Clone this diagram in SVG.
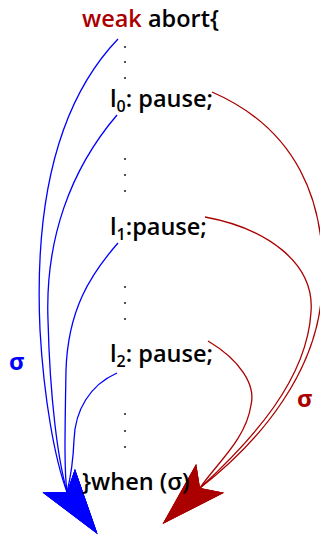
<svg xmlns="http://www.w3.org/2000/svg" width="320" height="534" viewBox="0 0 320 534">
<style>
text{font-family:"Open Sans","Noto Sans","DejaVu Sans",sans-serif;font-weight:600;font-size:23.5px;fill:#000}
.kw{fill:#aa0000}
.sub{font-size:16px}
.dot{fill:#000}
.b{fill:none;stroke:#0000ff;stroke-width:1.3;marker-end:url(#ab)}
.r{fill:none;stroke:#aa0000;stroke-width:1.3;marker-end:url(#ar)}
.sb{fill:#0000ff;font-weight:700}
.sr{fill:#aa0000;font-weight:700}
</style>
<defs>
<marker id="ab" markerUnits="userSpaceOnUse" orient="54" refX="0" refY="0" markerWidth="1" markerHeight="1" overflow="visible">
<path d="M52,0 L-14,-20 L0,0 L-14,20 Z" fill="#0000ff"/>
</marker>
<marker id="ar" markerUnits="userSpaceOnUse" orient="136" refX="0" refY="0" markerWidth="1" markerHeight="1" overflow="visible">
<path d="M52,0 L-14,-20 L0,0 L-14,20 Z" fill="#aa0000"/>
</marker>
</defs>
<g id="connectors">
<path class="b" d="M118,39 C50,110 35,220 40,330 C44,400 55,460 67,492"/>
<path class="b" d="M117,115 C70,170 45,240 48,320 C50,400 58,460 67,492"/>
<path class="b" d="M118,243 C90,275 68,310 66,370 C65,430 64,470 67,492"/>
<path class="b" d="M117,373 C90,385 75,410 74,440 C73,465 70,480 67,492"/>
<path class="r" d="M212,92 C295,128 328,200 322,290 C318,370 262,440 200,488"/>
<path class="r" d="M205,217 C265,228 315,262 311,312 C307,380 252,440 200,488"/>
<path class="r" d="M208,341 C240,360 256,385 251,405 C246,440 215,465 200,488"/>
</g>
<g id="weak-abort"><text x="82" y="27"><tspan class="kw">weak</tspan> abort{</text></g>
<g id="dots1"><circle class="dot" cx="125" cy="47" r="0.9"/><circle class="dot" cx="125" cy="62" r="0.9"/><circle class="dot" cx="125" cy="78" r="0.9"/></g>
<g id="l0"><text x="110" y="107">l<tspan class="sub" dy="5">0</tspan><tspan dy="-5">: pause;</tspan></text></g>
<g id="dots2"><circle class="dot" cx="125" cy="159" r="0.9"/><circle class="dot" cx="125" cy="175" r="0.9"/><circle class="dot" cx="125" cy="191" r="0.9"/></g>
<g id="l1"><text x="110" y="235">l<tspan class="sub" dy="5">1</tspan><tspan dy="-5">:pause;</tspan></text></g>
<g id="dots3"><circle class="dot" cx="125" cy="287" r="0.9"/><circle class="dot" cx="125" cy="303" r="0.9"/><circle class="dot" cx="125" cy="319" r="0.9"/></g>
<g id="l2"><text x="110" y="362">l<tspan class="sub" dy="5">2</tspan><tspan dy="-5">: pause;</tspan></text></g>
<g id="dots4"><circle class="dot" cx="125" cy="414" r="0.9"/><circle class="dot" cx="125" cy="431" r="0.9"/><circle class="dot" cx="125" cy="447" r="0.9"/></g>
<g id="when"><text x="82" y="490">}when (σ)</text></g>
<g id="sigma-blue"><text class="sb" x="9" y="370">σ</text></g>
<g id="sigma-red"><text class="sr" x="297" y="407">σ</text></g>
</svg>
